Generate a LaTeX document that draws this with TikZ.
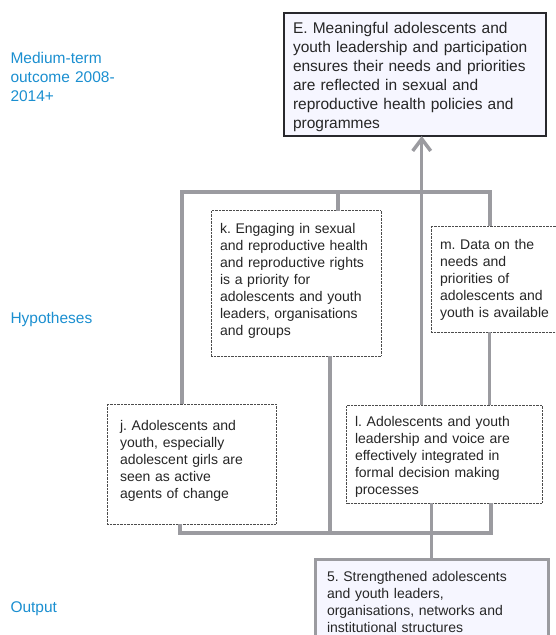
\documentclass[tikz,border=0pt]{standalone}
\usepackage{fontspec}
\setmainfont{Liberation Sans}
\usetikzlibrary{arrows.meta}
\definecolor{linkgray}{RGB}{155,155,160}
\definecolor{stageblue}{RGB}{27,143,208}
\definecolor{boxfill}{RGB}{246,246,255}
\definecolor{edgedark}{RGB}{40,40,45}
\frenchspacing

\begin{document}
\begin{tikzpicture}[
    x=1pt, y=-1pt,
    every node/.style={font=\fontsize{14}{17}\selectfont, text=black!85, outer sep=0pt},
    stage/.style={anchor=north west, align=left, inner sep=0pt, text width=125pt, text height=11pt, font=\fontsize{15.5}{19}\selectfont, text=stageblue},
    hyp/.style={draw=black!70, densely dotted, fill=white, anchor=north west, align=left, text height=10pt},
    result/.style={anchor=north west, align=left, fill=boxfill, text height=10pt},
    link/.style={draw=linkgray, line width=3.5pt},
    lead/.style={link, -{Straight Barb[length=12pt, width=18pt]}}
]
\useasboundingbox (0,0) rectangle (555,635);

\node[stage] (medterm) at (10.5,52) {Medium-term\\outcome 2008-\\2014+};
\node[stage] (hypotheses) at (10.5,312.3) {Hypotheses};
\node[stage] (outputlbl) at (10.5,601.7) {Output};

\node[result, draw=edgedark, line width=2pt, inner xsep=9pt, inner ysep=9pt, text width=244pt, text height=11pt, text depth=94pt, font=\fontsize{15.5}{19}\selectfont] (outcome) at (284,13) {E. Meaningful adolescents and\\youth leadership and participation\\ensures their needs and priorities\\are reflected in sexual and\\reproductive health policies and\\programmes};
\node[hyp, inner xsep=9pt, inner ysep=12.5pt, text width=152pt, text depth=110.5pt] (engage) at (211,210.5) {k. Engaging in sexual\\and reproductive health\\and reproductive rights\\is a priority for\\adolescents and youth\\leaders, organisations\\and groups};
\node[hyp, inner xsep=9pt, inner ysep=13pt, text width=109pt, text depth=70pt] (data) at (431,226) {m. Data on the\\needs and\\priorities of\\adolescents and\\youth is available};
\node[hyp, inner xsep=13pt, inner ysep=16pt, text width=143pt, text depth=78pt] (agents) at (107,404) {j. Adolescents and\\youth, especially\\adolescent girls are\\seen as active\\agents of change};
\node[hyp, inner xsep=8.5pt, inner ysep=11pt, text width=178.5pt, text depth=66pt] (voice) at (346.5,405) {l. Adolescents and youth\\leadership and voice are\\effectively integrated in\\formal decision making\\processes};
\node[result, draw=linkgray, line width=3pt, inner xsep=12pt, inner ysep=12pt, text width=209pt, text depth=67pt] (output) at (315,559) {5. Strengthened adolescents\\and youth leaders,\\organisations, networks and\\institutional structures};

\coordinate (bar) at (421.7,192);
\coordinate (floor) at (431.7,533);

\draw[link] ([xshift=75pt]agents.north west) |- (bar) -| ([xshift=59pt]data.north west);
\draw[link] ([xshift=127pt]engage.north west) |- (bar);
\draw[lead] ([xshift=75.2pt]voice.north west) -- ([xshift=137.7pt]outcome.south west);
\draw[link] ([xshift=58.5pt]data.south west) -- ([xshift=143pt]voice.north west);
\draw[link] ([xshift=73pt]agents.south west) |- (floor) -| ([xshift=144.5pt]voice.south west);
\draw[link] ([xshift=119pt]engage.south west) |- (floor);
\draw[link] ([xshift=85.2pt]voice.south west) -- ([xshift=116.7pt]output.north west);
\end{tikzpicture}
\end{document}
